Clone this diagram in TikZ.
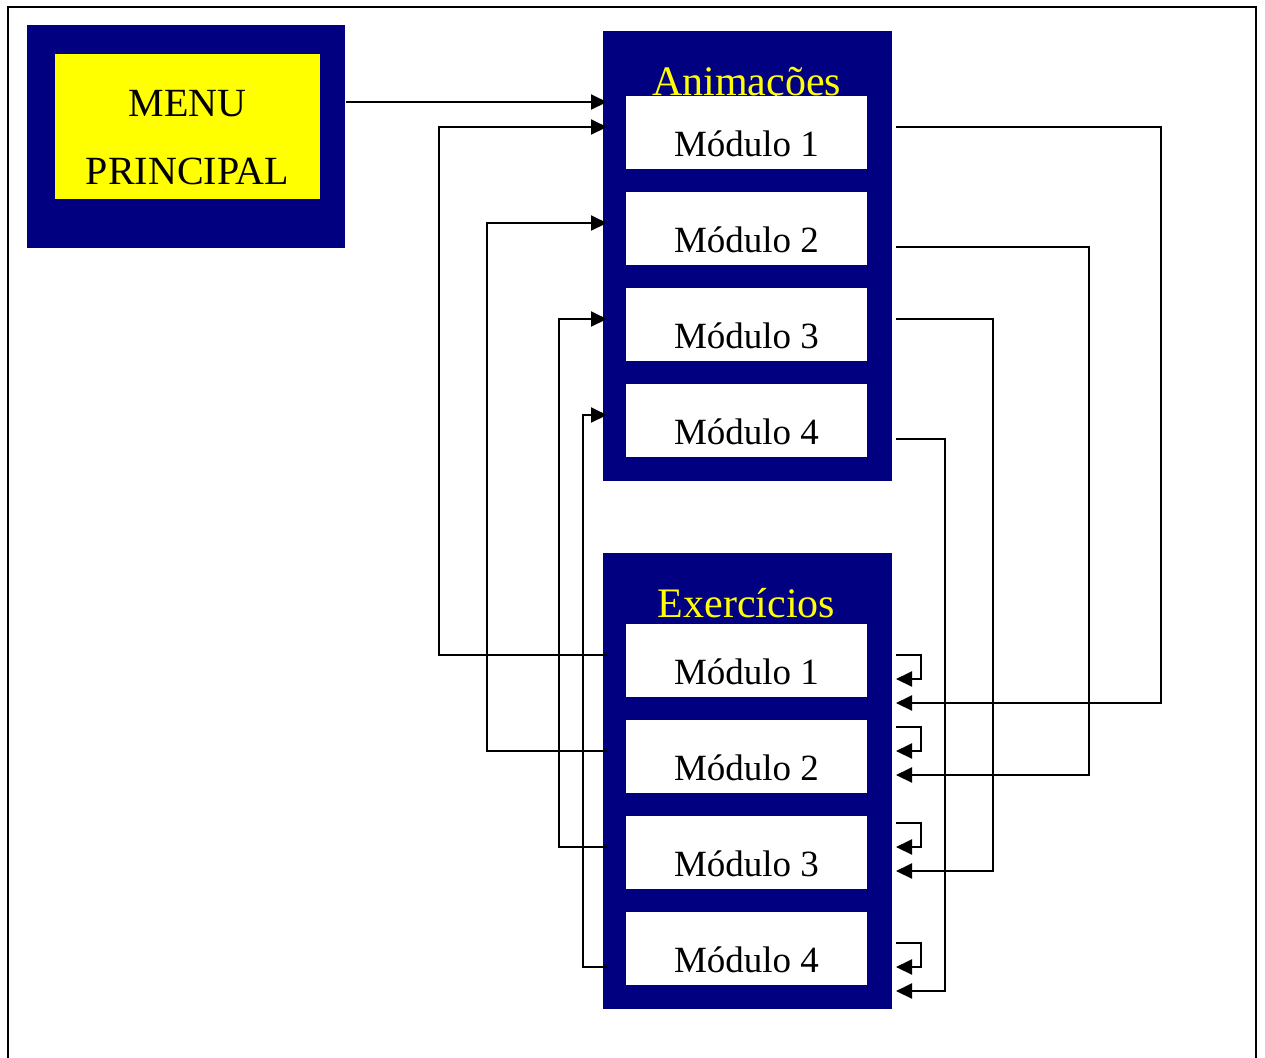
\documentclass[tikz,border=0pt]{standalone}
\usepackage{fontspec}
\setmainfont{Liberation Serif}
\usetikzlibrary{arrows.meta}
\definecolor{marinho}{RGB}{0,0,128}
\definecolor{amarelo}{RGB}{255,255,0}
\begin{document}
\begin{tikzpicture}[x=0.5pt,y=-0.5pt,line width=1pt,
  seta/.style={-{Triangle[length=8pt,width=7.5pt]}},
  bloco/.style={fill=marinho,inner sep=0pt,anchor=north west},
  modulo/.style={fill=white,inner sep=0pt,minimum width=120.5pt,minimum height=36.5pt,
    text height=23.5pt,text depth=0pt,font=\fontsize{18.5}{22}\selectfont},
  titulo/.style={text=amarelo,anchor=base,font=\fontsize{21}{25}\selectfont}]
\useasboundingbox (0,0) rectangle (1265,1057);
\draw[line width=0.7pt] (8,1060)--(8,7)--(1256,7)--(1256,1060);
% menu principal
\node[bloco,minimum width=159pt,minimum height=111.5pt] (menu) at (26,24) {};
\node[fill=amarelo,minimum width=132.5pt,minimum height=72.5pt] (fundo) at (187.5,126.5) {};
\node[align=center,font=\fontsize{20}{34}\selectfont] (menutxt) at (187.5,137.5) {MENU\\PRINCIPAL};
% animacoes e exercicios
\node[bloco,minimum width=144.5pt,minimum height=225pt] (anim) at (602,30) {};
\node[titulo] (animtit) at (746.5,95) {Animações};
\node[bloco,minimum width=144.5pt,minimum height=228pt] (exer) at (602,552) {};
\node[titulo] (exertit) at (746.5,617) {Exercícios};
\foreach \i in {1,...,4}{
  \node[modulo] (am\i) at (746.5,{132.5+96*(\i-1)}) {Módulo \i};
  \node[modulo] (em\i) at (746.5,{660.5+96*(\i-1)}) {Módulo \i};
}
\coordinate (entrada) at ([shift={(-18,-30.5)}]am1.west);
\draw[seta] (entrada -| menu.east)--(entrada);
\foreach \i/\a/\xv/\b in {1/-5.5/265/42.5,2/18.5/193/18.5,3/-5.5/97/18.5,4/18.5/49/42.5}
  \draw[seta] ([shift={(28,\a)}]am\i.east)--++(\xv,0)|-([shift={(28,\b)}]em\i.east);
\foreach \i/\a in {1/-5.5,2/-29.5,3/-29.5,4/-5.5}
  \draw[seta] ([shift={(28,\a)}]em\i.east)--++(25,0)|-([shift={(28,\a+24)}]em\i.east);
\foreach \i/\a/\xv in {1/-5.5/168,2/-5.5/120,3/-5.5/48,4/18.5/24}
  \draw[seta] ([shift={(-18,\a)}]em\i.west)--++(-\xv,0)|-([shift={(-18,-5.5)}]am\i.west);
\end{tikzpicture}
\end{document}
